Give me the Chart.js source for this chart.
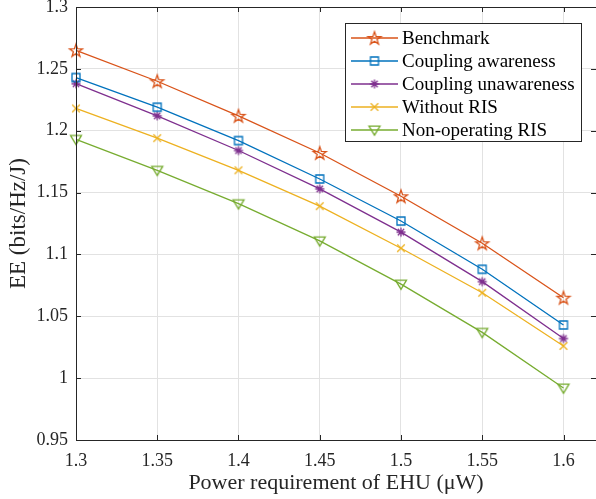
<!DOCTYPE html>
<html>
<head>
<meta charset="utf-8">
<script src="https://cdn.jsdelivr.net/npm/chart.js@4.4.1/dist/chart.umd.min.js"></script>
<style>
  body { margin: 0; background: #fff; }
  #wrap { width: 596px; height: 499px; }
</style>
</head>
<body>
<div id="wrap"><canvas id="myChart" width="596" height="499"></canvas></div>
<script>
// power requirement of EHU (uW)
var powerReq = [1.3, 1.35, 1.4, 1.45, 1.5, 1.55, 1.6];
var yTicks = [0.95, 1, 1.05, 1.1, 1.15, 1.2, 1.25, 1.3];
var seriesNames = ['Benchmark', 'Coupling awareness', 'Coupling unawareness', 'Without RIS', 'Non-operating RIS'];

var benchmark = [1.265, 1.240, 1.212, 1.182, 1.147, 1.109, 1.065];
var couplingAware = [1.243, 1.219, 1.192, 1.161, 1.127, 1.088, 1.043];
var couplingUnaware = [1.238, 1.212, 1.184, 1.153, 1.118, 1.078, 1.032];
var withoutRIS = [1.218, 1.194, 1.168, 1.139, 1.105, 1.069, 1.026];
var nonOperating = [1.193, 1.168, 1.141, 1.111, 1.076, 1.037, 0.992];

var colors = ['#D95319', '#0072BD', '#7E2F8E', '#EDB120', '#77AC30'];
var FONT = "'Liberation Serif', 'Times New Roman', serif";

// matlab-like marker images
function makeMarker(kind, color) {
    var c = document.createElement('canvas');
    c.width = 18; c.height = 18;
    var g = c.getContext('2d');
    var m = 9;
    g.strokeStyle = color;
    g.lineWidth = 1.3;
    g.beginPath();
    if (kind === 'pentagram') {
        for (var i = 0; i < 10; i++) {
            var r = (i % 2 === 0) ? 6.8 : 2.7;
            var a = -Math.PI / 2 + i * Math.PI / 5;
            var px = m + r * Math.cos(a), py = m + 0.6 + r * Math.sin(a);
            if (i === 0) g.moveTo(px, py); else g.lineTo(px, py);
        }
        g.closePath();
    } else if (kind === 'square') {
        g.rect(m - 4, m - 4, 8, 8);
    } else if (kind === 'asterisk') {
        for (var k = 0; k < 4; k++) {
            var ang = k * Math.PI / 4;
            g.moveTo(m - 4.5 * Math.cos(ang), m - 4.5 * Math.sin(ang));
            g.lineTo(m + 4.5 * Math.cos(ang), m + 4.5 * Math.sin(ang));
        }
    } else if (kind === 'x') {
        g.moveTo(m - 3.8, m - 3.8); g.lineTo(m + 3.8, m + 3.8);
        g.moveTo(m + 3.8, m - 3.8); g.lineTo(m - 3.8, m + 3.8);
    } else if (kind === 'triangleDown') {
        g.moveTo(m - 5.5, m - 3.8);
        g.lineTo(m + 5.5, m - 3.8);
        g.lineTo(m, m + 5.2);
        g.closePath();
    }
    g.stroke();
    return c;
}

var markers = [
    makeMarker('pentagram', colors[0]),
    makeMarker('square', colors[1]),
    makeMarker('asterisk', colors[2]),
    makeMarker('x', colors[3]),
    makeMarker('triangleDown', colors[4])
];
var allSeries = [benchmark, couplingAware, couplingUnaware, withoutRIS, nonOperating];

var datasets = [];
for (var i = 0; i < allSeries.length; i++) {
    datasets.push({
        label: seriesNames[i],
        data: powerReq.map(function(x, j) { return { x: x, y: allSeries[i][j] }; }),
        borderColor: colors[i],
        backgroundColor: colors[i],
        borderWidth: 1.3,
        pointStyle: markers[i],
        pointRadius: 6,
        tension: 0,
        clip: false
    });
}

// box, inward ticks and legend like matlab
const framePlugin = {
    id: 'frame',
    afterDraw: function(chart) {
        var ctx = chart.ctx;
        var a = chart.chartArea;
        var xs = chart.scales.x, ys = chart.scales.y;
        ctx.save();
        ctx.strokeStyle = '#262626';
        ctx.lineWidth = 1;
        ctx.strokeRect(Math.round(a.left) + 0.5, Math.round(a.top) + 0.5,
            Math.round(a.right - a.left), Math.round(a.bottom - a.top));
        ctx.beginPath();
        powerReq.forEach(function(v) {
            var px = Math.round(xs.getPixelForValue(v)) + 0.5;
            ctx.moveTo(px, a.bottom); ctx.lineTo(px, a.bottom - 5);
            ctx.moveTo(px, a.top); ctx.lineTo(px, a.top + 5);
        });
        yTicks.forEach(function(v) {
            var py = Math.round(ys.getPixelForValue(v)) + 0.5;
            ctx.moveTo(a.left, py); ctx.lineTo(a.left + 5, py);
            ctx.moveTo(a.right, py); ctx.lineTo(a.right - 5, py);
        });
        ctx.stroke();

        // legend
        var lx = 345, ly = 23, lw = 236, lh = 118;
        ctx.fillStyle = '#fff';
        ctx.fillRect(lx, ly, lw, lh);
        ctx.strokeStyle = '#262626';
        ctx.strokeRect(lx + 0.5, ly + 0.5, lw, lh);
        ctx.font = '19px ' + FONT;
        ctx.textBaseline = 'middle';
        for (var i = 0; i < seriesNames.length; i++) {
            var yy = 38 + i * 23;
            ctx.strokeStyle = colors[i];
            ctx.lineWidth = 1.3;
            ctx.beginPath();
            ctx.moveTo(351, yy); ctx.lineTo(398, yy);
            ctx.stroke();
            ctx.drawImage(markers[i], 374.5 - 9, yy - 9);
            ctx.fillStyle = '#000';
            ctx.fillText(seriesNames[i], 402, yy + 1);
        }
        ctx.restore();
    }
};

const config = {
    type: 'line',
    data: { datasets: datasets },
    options: {
        responsive: false,
        animation: false,
        layout: { autoPadding: false, padding: { top: 7, right: 0, left: 0, bottom: 0 } },
        plugins: { legend: { display: false }, tooltip: { enabled: false } },
        scales: {
            x: {
                type: 'linear',
                min: 1.3,
                max: 1.62,
                afterBuildTicks: function(scale) {
                    scale.ticks = powerReq.map(function(v) { return { value: v }; });
                },
                afterFit: function(scale) {
                    scale.height = 59;
                    scale.paddingLeft = 0; scale.paddingRight = 0;
                },
                grid: { color: '#e2e2e2', drawTicks: false },
                border: { display: false },
                ticks: {
                    padding: 10,
                    color: '#262626',
                    font: { family: FONT, size: 18 },
                    callback: function(v) { return String(parseFloat(v.toFixed(2))); }
                },
                title: {
                    display: true,
                    text: 'Power requirement of EHU (\u03BCW)',
                    color: '#262626',
                    font: { family: FONT, size: 22 },
                    padding: { top: 0, bottom: 3 }
                }
            },
            y: {
                min: 0.95,
                max: 1.3,
                afterBuildTicks: function(scale) {
                    scale.ticks = yTicks.map(function(v) { return { value: v }; });
                },
                afterFit: function(scale) {
                    scale.width = 76;
                    scale.paddingTop = 0; scale.paddingBottom = 0;
                },
                grid: { color: '#e2e2e2', drawTicks: false },
                border: { display: false },
                ticks: {
                    padding: 8,
                    color: '#262626',
                    font: { family: FONT, size: 18 },
                    callback: function(v) { return String(parseFloat(v.toFixed(2))); }
                },
                title: {
                    display: true,
                    text: 'EE (bits/Hz/J)',
                    color: '#262626',
                    font: { family: FONT, size: 23 },
                    padding: { top: 5, bottom: 0 }
                }
            }
        }
    },
    plugins: [framePlugin]
};

var myChart = new Chart(document.getElementById('myChart'), config);
</script>
</body>
</html>
